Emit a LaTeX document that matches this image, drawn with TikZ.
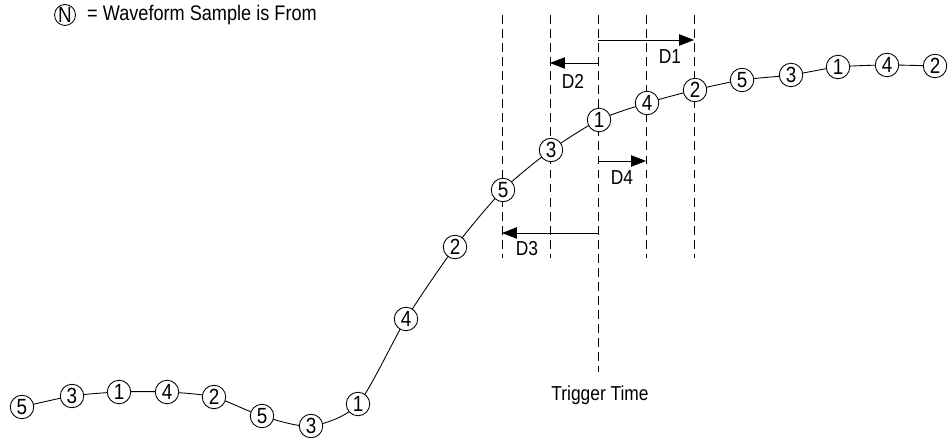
\documentclass[tikz,border=0pt]{standalone}
\usepackage{fontspec}
\setmainfont{Liberation Sans}[FakeStretch=0.86]
\usetikzlibrary{arrows.meta,backgrounds}

\tikzset{
  sample/.style={circle, draw, fill=white, line width=0.5pt, inner sep=0pt, minimum size=0.47cm, font=\fontsize{12.5}{14}\selectfont},
  guide/.style={dash pattern=on 5pt off 3pt, line width=0.5pt},
  delay/.style={-{Triangle[length=8.5pt,width=6.5pt]}, line width=0.5pt},
  lbl/.style={font=\fontsize{11.5}{14}\selectfont}
}

\begin{document}
\begin{tikzpicture}[x=0.02cm, y=-0.02cm]
        \useasboundingbox (0,0) rectangle (949,438);

        % Legend
        \node[sample, minimum size=0.42cm] (key) at (65,15) {N};
        \node[lbl, anchor=west, font=\fontsize{12}{14}\selectfont] (keytext) at (81,15) {= Waveform Sample is From};

        % Guide lines
        \foreach \gx [count=\gi] in {502,550,598,646,694} {
            \coordinate (top\gi) at (\gx,15);
            \coordinate (bot\gi) at (\gx,258);
        }
        \coordinate (trigbot) at (598,372);
        \draw[guide] (top1) -- (bot1);
        \draw[guide] (top2) -- (bot2);
        \draw[guide] (top3) -- (trigbot);
        \draw[guide] (top4) -- (bot4);
        \draw[guide] (top5) -- (bot5);
        \node[lbl] (trig) at (600,395) {Trigger Time};

        % Samples
        \foreach \px/\py/\n [count=\i] in {22/407/5, 72/396/3, 119/392/1, 167/392/4, 214/397/2,
                262/416/5, 311/426/3, 358/404/1, 406/319/4, 455/247/2, 503/190/5, 551/150/3,
                599/120/1, 647/103/4, 695/90/2, 742/80/5, 791/75/3, 838/67/1, 887/65/4, 935/66/2}
            \node[sample] (w\i) at (\px,\py) {\n};

        % Waveform
        \begin{scope}[on background layer]
        \draw[line width=0.5pt] plot[smooth, tension=0.45] coordinates {(w1.center) (w2.center) (w3.center) (w4.center)
            (w5.center) (w6.center) (w7.center) (w8.center) (w9.center) (w10.center) (w11.center)
            (w12.center) (w13.center) (w14.center) (w15.center) (w16.center) (w17.center)
            (w18.center) (w19.center) (w20.center)};
        \end{scope}

        % Delays
        \coordinate (d1a) at (598,40);  \coordinate (d1b) at (694,40);
        \coordinate (d2a) at (598,63);  \coordinate (d2b) at (550,63);
        \coordinate (d4a) at (598,161); \coordinate (d4b) at (646,161);
        \coordinate (d3a) at (598,233); \coordinate (d3b) at (502,233);
        \draw[delay] (d1a) -- (d1b);
        \draw[delay] (d2a) -- (d2b);
        \draw[delay] (d4a) -- (d4b);
        \draw[delay] (d3a) -- (d3b);

        % Labels
        \node[lbl] (D1) at (670,57) {D1};
        \node[lbl] (D2) at (573,81) {D2};
        \node[lbl] (D4) at (622,178) {D4};
        \node[lbl] (D3) at (527,249) {D3};
    \end{tikzpicture}
\end{document}
